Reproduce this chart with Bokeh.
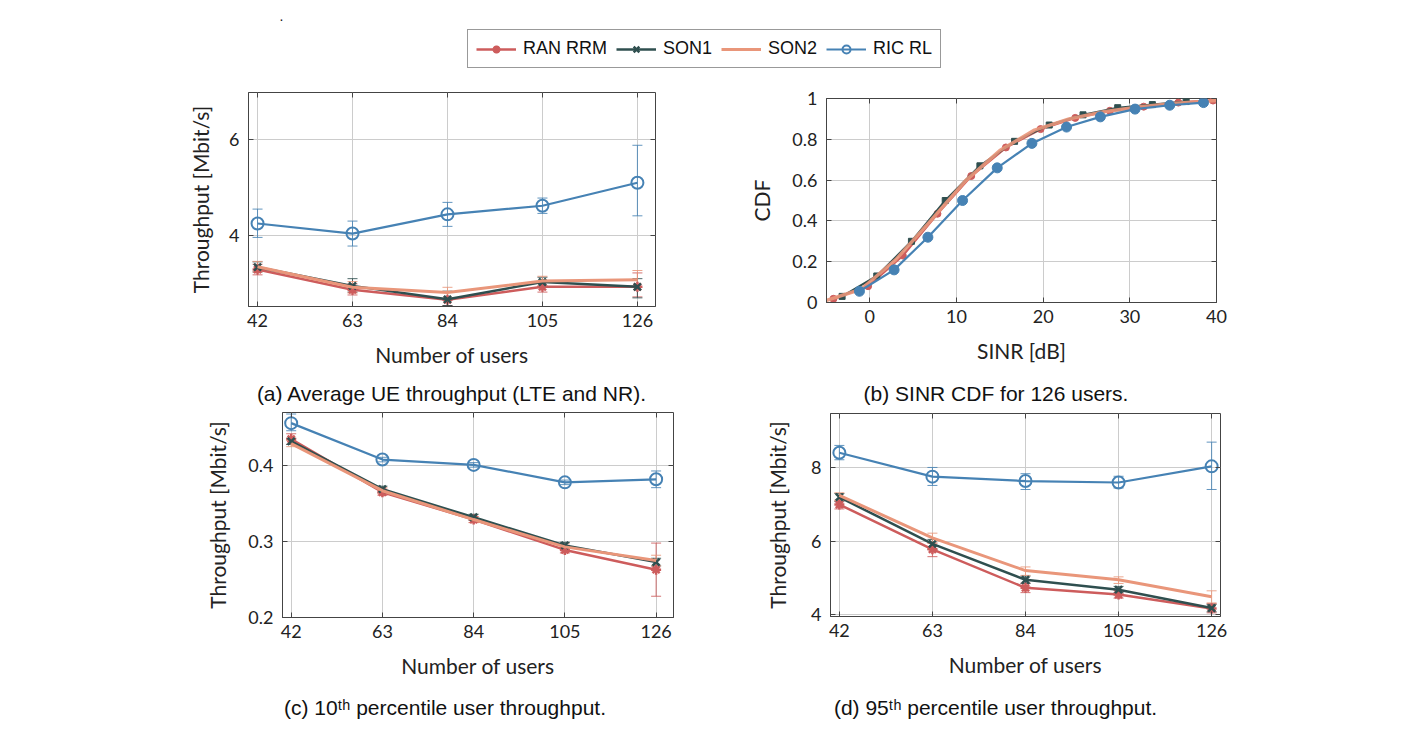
from bokeh.plotting import figure
from bokeh.models import (ColumnDataSource, Whisker, TeeHead, Legend, LegendItem,
                          Label, Range1d, FixedTicker, LinearAxis)
from bokeh.layouts import column, row
from bokeh.embed import file_html
from bokeh.resources import INLINE

# ---------------- data ----------------
series = ["RAN RRM", "SON1", "SON2", "RIC RL"]
users = [42, 63, 84, 105, 126]
user_ticks = [42, 63, 84, 105, 126]

# (a) average UE throughput [Mbit/s]
ran_avg = [3.29, 2.87, 2.66, 2.93, 2.93]
ran_avg_lo = [3.18, 2.76, 2.54, 2.82, 2.72]
ran_avg_hi = [3.40, 2.99, 2.82, 3.04, 3.22]
son1_avg = [3.34, 2.95, 2.67, 3.03, 2.93]
son1_avg_lo = [3.24, 2.82, 2.54, 2.92, 2.70]
son1_avg_hi = [3.45, 3.10, 2.84, 3.13, 3.10]
son2_avg = [3.35, 2.92, 2.81, 3.05, 3.08]
son2_avg_lo = [3.24, 2.80, 2.68, 2.95, 2.92]
son2_avg_hi = [3.46, 3.04, 2.92, 3.15, 3.27]
ric_avg = [4.25, 4.04, 4.44, 4.62, 5.10]
ric_avg_lo = [3.96, 3.78, 4.19, 4.46, 4.41]
ric_avg_hi = [4.55, 4.30, 4.69, 4.78, 5.88]
avg_yticks = [4, 6]

# (b) SINR CDF for 126 users
sinr_ran = [-4.2, -0.2, 3.8, 7.8, 11.7, 15.7, 19.7, 23.7, 27.7, 31.6, 35.6, 39.6]
cdf_ran = [0.018, 0.08, 0.23, 0.435, 0.62, 0.76, 0.85, 0.905, 0.94, 0.96, 0.98, 0.99]
sinr_son1 = [-3.2, 0.8, 4.8, 8.7, 12.7, 16.7, 20.7, 24.6, 28.6, 32.6, 36.5]
cdf_son1 = [0.03, 0.13, 0.30, 0.50, 0.67, 0.79, 0.87, 0.92, 0.955, 0.97, 0.985]
sinr_son2 = [-5, -1, 3, 7, 11, 15, 19, 23, 27, 31, 35, 40]
cdf_son2 = [0.01, 0.065, 0.21, 0.40, 0.595, 0.745, 0.845, 0.90, 0.935, 0.958, 0.975, 0.99]
sinr_ric = [-1.2, 2.8, 6.7, 10.7, 14.7, 18.7, 22.7, 26.6, 30.6, 34.6, 38.5]
cdf_ric = [0.055, 0.16, 0.32, 0.50, 0.66, 0.78, 0.86, 0.91, 0.948, 0.967, 0.98]
sinr_ticks = [0, 10, 20, 30, 40]
cdf_ticks = [0, 0.2, 0.4, 0.6, 0.8, 1]
cdf_tick_labels = ["0", "0.2", "0.4", "0.6", "0.8", "1"]

# (c) 10th percentile user throughput [Mbit/s]
ran_p10 = [0.435, 0.365, 0.329, 0.289, 0.263]
ran_p10_lo = [0.428, 0.361, 0.325, 0.285, 0.228]
ran_p10_hi = [0.442, 0.369, 0.333, 0.293, 0.298]
son1_p10 = [0.432, 0.369, 0.332, 0.295, 0.273]
son1_p10_lo = [0.428, 0.365, 0.328, 0.291, 0.268]
son1_p10_hi = [0.436, 0.373, 0.336, 0.299, 0.278]
son2_p10 = [0.429, 0.367, 0.329, 0.293, 0.275]
son2_p10_lo = [0.425, 0.363, 0.325, 0.289, 0.268]
son2_p10_hi = [0.433, 0.371, 0.333, 0.297, 0.282]
ric_p10 = [0.456, 0.408, 0.401, 0.378, 0.382]
ric_p10_lo = [0.446, 0.405, 0.398, 0.375, 0.371]
ric_p10_hi = [0.468, 0.411, 0.404, 0.381, 0.393]
p10_yticks = [0.2, 0.3, 0.4]

# (d) 95th percentile user throughput [Mbit/s]
ran_p95 = [7.0, 5.78, 4.73, 4.55, 4.17]
ran_p95_lo = [6.88, 5.58, 4.60, 4.45, 4.05]
ran_p95_hi = [7.12, 5.95, 4.86, 4.66, 4.30]
son1_p95 = [7.2, 5.93, 4.95, 4.68, 4.18]
son1_p95_lo = [7.08, 5.78, 4.85, 4.60, 4.08]
son1_p95_hi = [7.30, 6.05, 5.05, 4.77, 4.28]
son2_p95 = [7.25, 6.09, 5.20, 4.95, 4.49]
son2_p95_lo = [7.10, 5.95, 5.07, 4.85, 4.32]
son2_p95_hi = [7.32, 6.22, 5.30, 5.03, 4.65]
ric_p95 = [8.41, 7.76, 7.64, 7.60, 8.04]
ric_p95_lo = [8.22, 7.52, 7.41, 7.45, 7.41]
ric_p95_hi = [8.61, 8.01, 7.84, 7.77, 8.70]
p95_yticks = [4, 6, 8]

captions = ["(a) Average UE throughput (LTE and NR).",
            "(b) SINR CDF for 126 users.",
            "(c) 10\u1d57\u02b0 percentile user throughput.",
            "(d) 95\u1d57\u02b0 percentile user throughput."]
xlabel_users = "Number of users"
ylabel_tp = "Throughput [Mbit/s]"

# ---------------- style ----------------
COLORS = {"RAN RRM": "indianred", "SON1": "darkslategray",
          "SON2": "darksalmon", "RIC RL": "steelblue"}
AX_FONT = "Lato"
CAP_FONT = "Liberation Sans"
FRAME = "#444444"
GRID = "#cccccc"
TOTAL_W = 1385


def make_fig(w, h, xr, yr, mb):
    p = figure(width=w, height=h, x_range=Range1d(*xr), y_range=Range1d(*yr),
               output_backend="svg", toolbar_location=None,
               min_border_left=mb[0], min_border_right=mb[1],
               min_border_top=mb[2], min_border_bottom=mb[3])
    p.title.visible = False
    p.outline_line_color = FRAME
    p.outline_line_width = 1
    p.grid.grid_line_color = GRID
    p.grid.grid_line_width = 1
    p.background_fill_color = "white"
    p.border_fill_color = "white"
    return p


def mirror_axis(ticks):
    # tick marks only (no labels drawn), on the opposite side of the frame
    return LinearAxis(ticker=FixedTicker(ticks=ticks), major_label_text_color=None,
                      major_label_text_font_size="1px",
                      major_label_standoff=0, major_tick_in=5, major_tick_out=0,
                      major_tick_line_color=FRAME, minor_tick_line_color=None,
                      axis_line_color=None)


def style_axes(p, xticks, yticks, xlabel, ylabel, ylabel_standoff=18):
    p.xaxis.ticker = FixedTicker(ticks=xticks)
    p.yaxis.ticker = FixedTicker(ticks=yticks)
    p.xgrid.ticker = FixedTicker(ticks=xticks)
    p.ygrid.ticker = FixedTicker(ticks=yticks)
    p.xaxis.axis_label = xlabel
    p.yaxis.axis_label = ylabel
    for ax in (p.xaxis[0], p.yaxis[0]):
        ax.axis_label_text_font = AX_FONT
        ax.axis_label_text_font_size = "21px"
        ax.axis_label_text_font_style = "normal"
        ax.axis_label_text_color = "#222222"
        ax.major_label_text_font = AX_FONT
        ax.major_label_text_font_size = "18px"
        ax.major_label_text_color = "#222222"
        ax.axis_line_color = FRAME
        ax.major_tick_line_color = FRAME
        ax.major_tick_in = 5
        ax.major_tick_out = 0
        ax.minor_tick_line_color = None
    p.xaxis.major_label_standoff = 7
    p.xaxis.axis_label_standoff = 12
    p.yaxis.major_label_standoff = 9
    p.yaxis.axis_label_standoff = ylabel_standoff
    p.add_layout(mirror_axis(yticks), "right")
    p.add_layout(mirror_axis(xticks), "above")


def caption_strip(h, texts_xy):
    s = figure(width=TOTAL_W, height=h, x_range=Range1d(0, 1), y_range=Range1d(0, 1),
               output_backend="svg", toolbar_location=None, min_border=0,
               x_axis_location=None, y_axis_location=None)
    s.title.visible = False
    s.outline_line_color = None
    s.grid.visible = False
    for text, x, y in texts_xy:
        s.add_layout(Label(x=x, y=y, x_units="screen", y_units="screen", text=text,
                           text_align="center", text_baseline="middle",
                           text_font=CAP_FONT, text_font_size="21px",
                           text_color="#111111"))
    return s


def draw_series(p, name, src):
    c = COLORS[name]
    rs = []
    if name == "RAN RRM":
        rs.append(p.line("x", "y", source=src, line_color=c, line_width=2.5))
        rs.append(p.scatter("x", "y", source=src, marker="asterisk", size=10, line_color=c, line_width=2.5))
    elif name == "SON1":
        rs.append(p.line("x", "y", source=src, line_color=c, line_width=2.5))
        rs.append(p.scatter("x", "y", source=src, marker="x", size=10, line_color=c, line_width=2.5))
    elif name == "SON2":
        rs.append(p.line("x", "y", source=src, line_color=c, line_width=3))
    else:
        rs.append(p.line("x", "y", source=src, line_color=c, line_width=2.2))
        rs.append(p.scatter("x", "y", source=src, marker="circle", size=12, line_color=c,
                            fill_color=None, line_width=2))
    return rs


def add_series(p, name, x, y, lo, hi):
    c = COLORS[name]
    src = ColumnDataSource(data=dict(x=x, y=y, lo=lo, hi=hi))
    p.add_layout(Whisker(source=src, base="x", upper="hi", lower="lo",
                         line_color=c, line_width=1, line_alpha=0.85,
                         upper_head=TeeHead(size=10, line_color=c, line_width=1, line_alpha=0.85),
                         lower_head=TeeHead(size=10, line_color=c, line_width=1, line_alpha=0.85)))
    draw_series(p, name, src)


# ---------------- legend strip (its sample renderers lie outside its 0..1 view) ----------------
top = figure(width=TOTAL_W, height=80, x_range=Range1d(0, 1), y_range=Range1d(0, 1),
             output_backend="svg", toolbar_location=None, min_border=0,
             x_axis_location=None, y_axis_location=None)
top.title.visible = False
top.outline_line_color = None
top.grid.visible = False
legend_y = {"RAN RRM": ran_avg, "SON1": son1_avg, "SON2": son2_avg, "RIC RL": ric_avg}
items = []
for name in series:
    src = ColumnDataSource(data=dict(x=users, y=legend_y[name]))
    items.append(LegendItem(label=name, renderers=draw_series(top, name, src)))
leg = Legend(items=items, orientation="horizontal", location=(467, 12),
             border_line_color="#333333", border_line_width=1,
             padding=8, spacing=9, label_standoff=7, glyph_width=40, glyph_height=20,
             label_text_font=CAP_FONT, label_text_font_size="18px",
             label_text_color="#111111", margin=0)
top.add_layout(leg)
top.add_layout(Label(x=279, y=60, x_units="screen", y_units="screen", text=".",
                     text_font=CAP_FONT, text_font_size="14px", text_color="#111111"))

# ---------------- (a) ----------------
fa = make_fig(740, 295, (40, 130), (2.52, 6.98), (248, 85, 12, 69))
style_axes(fa, user_ticks, avg_yticks, xlabel_users, ylabel_tp, 13)
add_series(fa, "RAN RRM", users, ran_avg, ran_avg_lo, ran_avg_hi)
add_series(fa, "SON1", users, son1_avg, son1_avg_lo, son1_avg_hi)
add_series(fa, "SON2", users, son2_avg, son2_avg_lo, son2_avg_hi)
add_series(fa, "RIC RL", users, ric_avg, ric_avg_lo, ric_avg_hi)

# ---------------- (b) ----------------
fb = make_fig(645, 295, (-5, 40), (0, 1), (86, 169, 18, 73))
style_axes(fb, sinr_ticks, cdf_ticks, "SINR [dB]", "CDF", 15)
fb.yaxis[0].major_label_overrides = {t: l for t, l in zip(cdf_ticks, cdf_tick_labels)}
fb.line(sinr_ran, cdf_ran, line_color=COLORS["RAN RRM"], line_width=2.5)
fb.scatter(sinr_ran, cdf_ran, marker="circle", size=7, color=COLORS["RAN RRM"])
fb.line(sinr_son1, cdf_son1, line_color=COLORS["SON1"], line_width=2)
fb.scatter(sinr_son1, cdf_son1, marker="square", size=6, color=COLORS["SON1"])
fb.line(sinr_son2, cdf_son2, line_color=COLORS["SON2"], line_width=3.5, line_alpha=0.9)
fb.line(sinr_ric, cdf_ric, line_color=COLORS["RIC RL"], line_width=2.2)
fb.scatter(sinr_ric, cdf_ric, marker="circle", size=10, color=COLORS["RIC RL"])

cap1 = caption_strip(35, [(captions[0], 451.5, 17), (captions[1], 995.5, 17)])

# ---------------- (c) ----------------
fc = make_fig(740, 280, (40, 130), (0.2, 0.47), (282, 67, 2, 73))
style_axes(fc, user_ticks, p10_yticks, xlabel_users, ylabel_tp, 15)
add_series(fc, "RAN RRM", users, ran_p10, ran_p10_lo, ran_p10_hi)
add_series(fc, "SON1", users, son1_p10, son1_p10_lo, son1_p10_hi)
add_series(fc, "SON2", users, son2_p10, son2_p10_lo, son2_p10_hi)
add_series(fc, "RIC RL", users, ric_p10, ric_p10_lo, ric_p10_hi)

# ---------------- (d) ----------------
fd = make_fig(645, 280, (40, 128), (3.95, 9.48), (90, 165, 3, 74))
style_axes(fd, user_ticks, p95_yticks, xlabel_users, ylabel_tp, 18)
add_series(fd, "RAN RRM", users, ran_p95, ran_p95_lo, ran_p95_hi)
add_series(fd, "SON1", users, son1_p95, son1_p95_lo, son1_p95_hi)
add_series(fd, "SON2", users, son2_p95, son2_p95_lo, son2_p95_hi)
add_series(fd, "RIC RL", users, ric_p95, ric_p95_lo, ric_p95_hi)

cap2 = caption_strip(33, [(captions[2], 444.5, 16), (captions[3], 995, 16)])

layout = column(top, row(column(fa), column(fb)), cap1, row(column(fc), column(fd)), cap2)
open("out.html", "w").write(file_html(layout, INLINE))
